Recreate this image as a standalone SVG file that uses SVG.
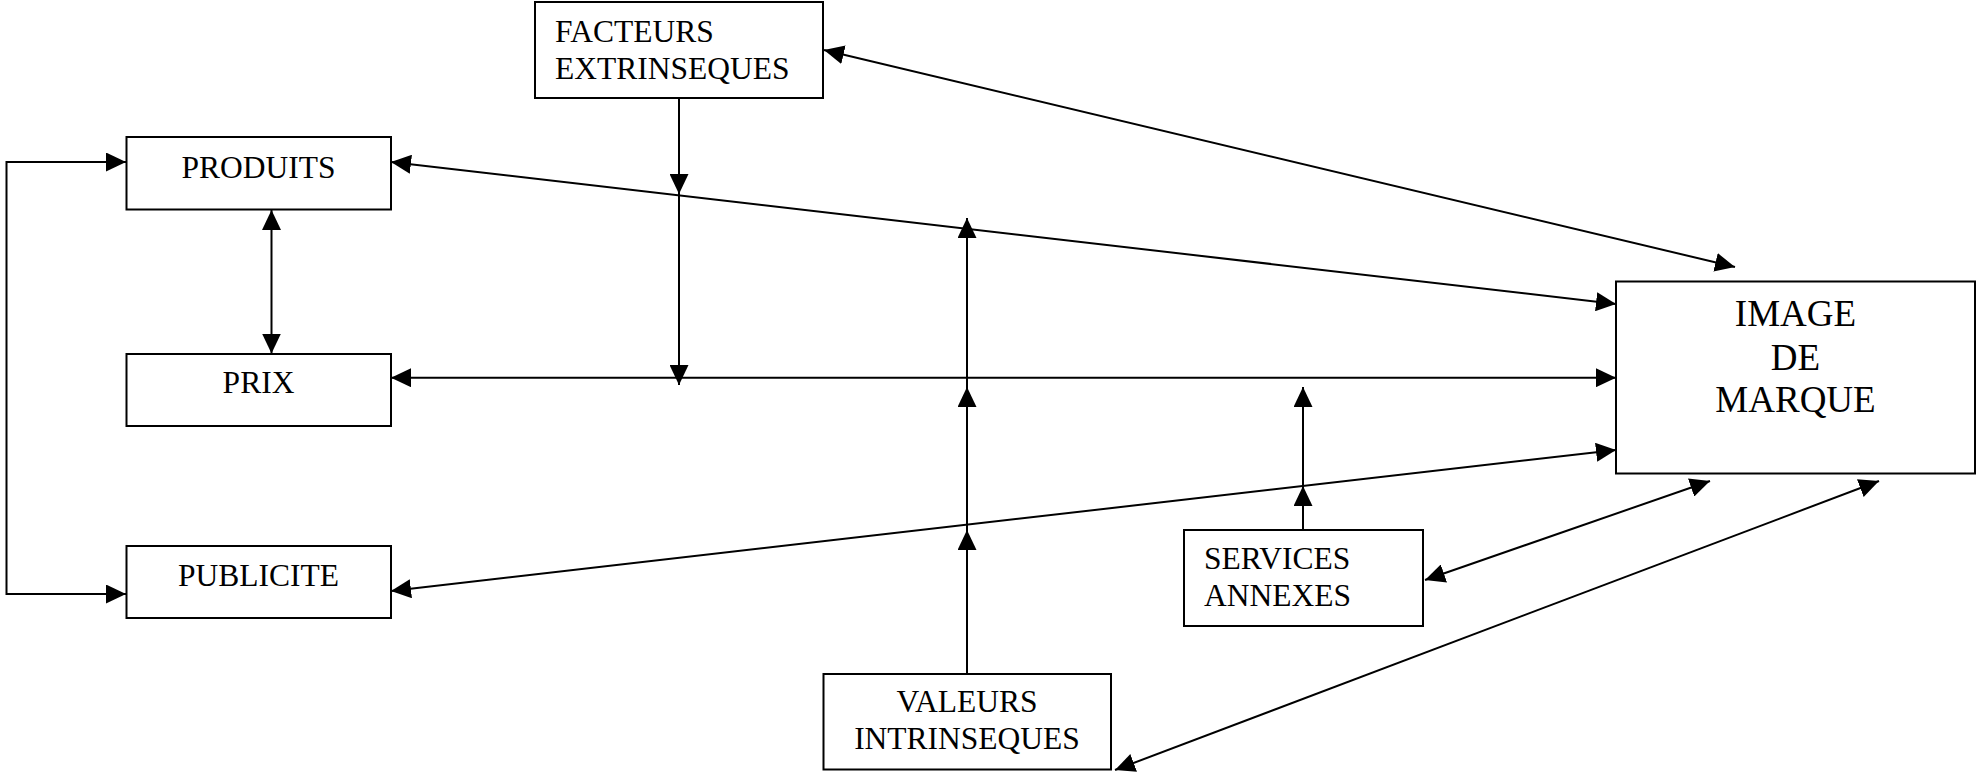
<svg xmlns="http://www.w3.org/2000/svg" width="1977" height="773" viewBox="0 0 1977 773">
<style>
.box{fill:#fff;stroke:#000;stroke-width:2}
.t{font-family:"Liberation Serif","Times New Roman",serif;font-size:31.5px;fill:#000}
.c{text-anchor:middle}
.big{font-size:37px}
.ln{fill:none;stroke:#000;stroke-width:2}
</style>
<defs>
<marker id="ah" markerUnits="userSpaceOnUse" markerWidth="20" markerHeight="19" refX="20" refY="9.5" orient="auto-start-reverse" viewBox="0 0 20 19">
<path d="M0,0 L20,9.5 L0,19 z" fill="#000"/>
</marker>
</defs>
<g id="connectors">
<path class="ln" d="M126,162 H6.5 V594 H126" marker-start="url(#ah)" marker-end="url(#ah)"/>
<line class="ln" x1="271.5" y1="210" x2="271.5" y2="353.5" marker-start="url(#ah)" marker-end="url(#ah)"/>
<line class="ln" x1="391" y1="162" x2="1616" y2="304" marker-start="url(#ah)" marker-end="url(#ah)"/>
<line class="ln" x1="824" y1="50" x2="1735" y2="267" marker-start="url(#ah)" marker-end="url(#ah)"/>
<line class="ln" x1="391" y1="377.7" x2="1616" y2="377.7" marker-start="url(#ah)" marker-end="url(#ah)"/>
<line class="ln" x1="391" y1="591" x2="1616" y2="450" marker-start="url(#ah)" marker-end="url(#ah)"/>
<line class="ln" x1="679" y1="98" x2="679" y2="194" marker-end="url(#ah)"/>
<line class="ln" x1="679" y1="194" x2="679" y2="385" marker-end="url(#ah)"/>
<line class="ln" x1="967" y1="673" x2="967" y2="530" marker-end="url(#ah)"/>
<line class="ln" x1="967" y1="530" x2="967" y2="387" marker-end="url(#ah)"/>
<line class="ln" x1="967" y1="387" x2="967" y2="218" marker-end="url(#ah)"/>
<line class="ln" x1="1303" y1="530" x2="1303" y2="486" marker-end="url(#ah)"/>
<line class="ln" x1="1303" y1="486" x2="1303" y2="387" marker-end="url(#ah)"/>
<line class="ln" x1="1425" y1="580" x2="1710" y2="481" marker-start="url(#ah)" marker-end="url(#ah)"/>
<line class="ln" x1="1115" y1="770" x2="1879" y2="481" marker-start="url(#ah)" marker-end="url(#ah)"/>
</g>
<g id="facteurs">
<rect class="box" x="535" y="2" width="288" height="96"/>
<text class="t" x="555" y="42">FACTEURS</text>
<text class="t" x="555" y="79">EXTRINSEQUES</text>
</g>
<g id="produits">
<rect class="box" x="126.5" y="137" width="264.5" height="72.5"/>
<text class="t c" x="258.5" y="177.5">PRODUITS</text>
</g>
<g id="prix">
<rect class="box" x="126.5" y="354" width="264.5" height="72"/>
<text class="t c" x="258.5" y="393">PRIX</text>
</g>
<g id="publicite">
<rect class="box" x="126.5" y="546" width="264.5" height="72"/>
<text class="t c" x="258.5" y="585.5">PUBLICITE</text>
</g>
<g id="image">
<rect class="box" x="1616" y="281.5" width="359" height="192"/>
<text class="t c big" x="1795.5" y="326">IMAGE</text>
<text class="t c big" x="1795.5" y="370">DE</text>
<text class="t c big" x="1795.5" y="412">MARQUE</text>
</g>
<g id="services">
<rect class="box" x="1184" y="530" width="239" height="96"/>
<text class="t" x="1204" y="569">SERVICES</text>
<text class="t" x="1204" y="606">ANNEXES</text>
</g>
<g id="valeurs">
<rect class="box" x="823.5" y="674" width="287.5" height="95.5"/>
<text class="t c" x="967" y="712">VALEURS</text>
<text class="t c" x="967" y="749">INTRINSEQUES</text>
</g>
</svg>
